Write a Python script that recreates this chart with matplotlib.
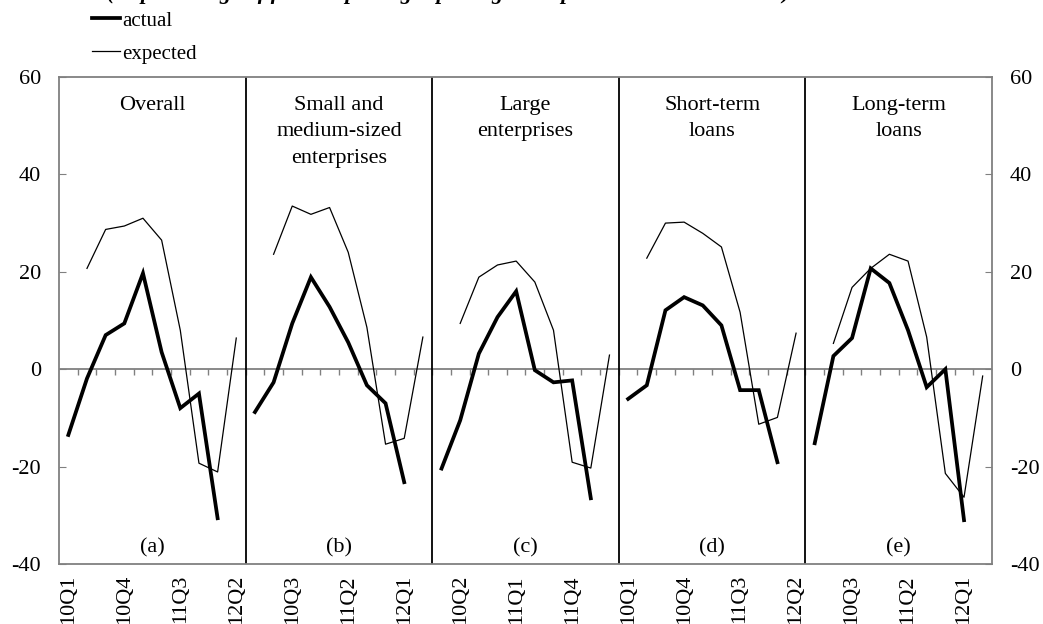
import numpy as np
import matplotlib
matplotlib.use('Agg')
from matplotlib import pyplot as plt

plt.rcParams['font.family'] = ['Liberation Serif', 'DejaVu Serif']
plt.rcParams['font.size'] = 16
plt.rcParams['axes.unicode_minus'] = False

# Data (10Q1 .. 12Q2 for each panel)
quarters = ['10Q1', '10Q2', '10Q3', '10Q4', '11Q1', '11Q2', '11Q3', '11Q4', '12Q1', '12Q2']
panel_titles = ['Overall', 'Small and\nmedium-sized\nenterprises', 'Large\nenterprises',
                'Short-term\nloans', 'Long-term\nloans']
panel_tags = ['(a)', '(b)', '(c)', '(d)', '(e)']
nan = np.nan

actual_a = [-13.5, -1.9, 7.0, 9.4, 19.7, 3.5, -8.0, -5.0, -30.6, nan]
actual_b = [-8.8, -2.7, 9.4, 18.9, 12.8, 5.5, -3.3, -7.0, -23.2, nan]
actual_c = [-20.4, -10.5, 3.2, 10.7, 16.0, -0.2, -2.7, -2.3, -26.5, nan]
actual_d = [-6.1, -3.3, 12.1, 14.8, 13.1, 9.0, -4.3, -4.3, -19.1, nan]
actual_e = [-15.2, 2.7, 6.4, 20.7, 17.7, 8.0, -3.7, 0.0, -31.0, nan]

expected_a = [nan, 20.7, 28.7, 29.4, 31.0, 26.5, 8.0, -19.3, -21.1, 6.4]
expected_b = [nan, 23.6, 33.5, 31.8, 33.2, 24.0, 8.6, -15.4, -14.2, 6.6]
expected_c = [nan, 9.4, 18.9, 21.4, 22.2, 17.9, 8.0, -19.1, -20.3, 2.9]
expected_d = [nan, 22.8, 30.0, 30.2, 27.9, 25.1, 11.7, -11.3, -9.9, 7.4]
expected_e = [nan, 5.3, 16.8, 20.7, 23.6, 22.2, 6.6, -21.4, -26.3, -1.4]

actual = [actual_a, actual_b, actual_c, actual_d, actual_e]
expected = [expected_a, expected_b, expected_c, expected_d, expected_e]

title = '(In percentage of firms expecting/reporting an improvement in conditions)'

W, H = 1043, 624
fig = plt.figure(figsize=(W / 100, H / 100), dpi=100)
ax = fig.add_axes([59 / W, 1 - 564 / H, (992 - 59) / W, (564 - 77) / H])

n = len(quarters)
grey = '#808080'
for p in range(5):
    x = np.arange(n) + p * n + 0.5
    la, = ax.plot(x, actual[p], color='black', lw=2.7, solid_joinstyle='miter')
    le, = ax.plot(x, expected[p], color='black', lw=0.9)
    ax.text(p * n + n / 2, 56.2, panel_titles[p], ha='center', va='top', linespacing=1.55)
    ax.text(p * n + n / 2, -36.6, panel_tags[p], ha='center', va='center')
    if p > 0:
        ax.axvline(p * n, color='black', lw=1.3)

# zero line with small ticks
ax.axhline(0, color=grey, lw=1.3, zorder=1)
ax.vlines(np.arange(1, 5 * n), -1.1, 0, color=grey, lw=1.0, zorder=1)

ax.set_xlim(0, 5 * n)
ax.set_ylim(-40, 60)
ax.set_yticks([-40, -20, 0, 20, 40, 60])
ax.tick_params(axis='y', direction='in', left=True, right=True, labelleft=True,
               labelright=True, length=5, color=grey, pad=13)

all_labels = quarters * 5
pos = np.arange(0, 5 * n, 3)
ax.set_xticks(pos + 0.5)
ax.set_xticklabels([all_labels[i] for i in pos], rotation=90, va='top')
ax.tick_params(axis='x', length=0, pad=8)

for s in ax.spines.values():
    s.set_color(grey)
    s.set_linewidth(1.3)

ax.legend([la, le], ['actual', 'expected'], loc='upper left', frameon=False,
          bbox_to_anchor=(92 / W, 1 - 11 / H), bbox_transform=fig.transFigure,
          borderpad=0, borderaxespad=0, handlelength=1.35, handletextpad=0.1,
          labelspacing=0.65, fontsize=15)

fig.text(107 / W, 1 + 1 / H, title, fontsize=16, fontweight='bold', style='italic',
         va='baseline', ha='left')

fig.savefig('out.png', dpi=100)
